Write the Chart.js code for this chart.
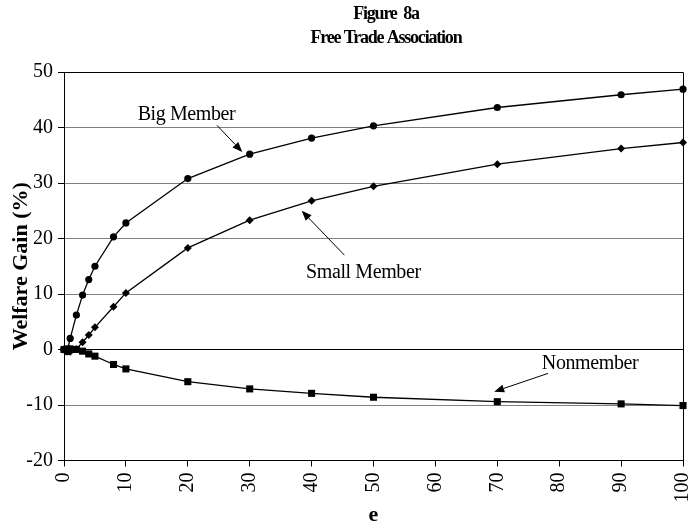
<!DOCTYPE html>
<html>
<head>
<meta charset="utf-8">
<script src="https://cdn.jsdelivr.net/npm/chart.js@4/dist/chart.umd.min.js"></script>
<style>
  html, body { margin: 0; padding: 0; background: #fff; overflow: hidden; }
  canvas { display: block; }
</style>
</head>
<body>
<canvas id="myChart" width="695" height="529"></canvas>
<script>
// Chart data
const eValues = [0, 0.5, 1, 2, 3, 4, 5, 8, 10, 20, 30, 40, 50, 70, 90, 100];
const bigMember = [0, -0.4, 2.0, 6.2, 9.8, 12.6, 15.0, 20.3, 22.8, 30.8, 35.2, 38.1, 40.3, 43.6, 45.9, 46.9];
const smallMember = [0, -0.3, -0.4, 0.1, 1.3, 2.6, 4.0, 7.7, 10.2, 18.3, 23.3, 26.8, 29.4, 33.4, 36.2, 37.3];
const nonmember = [0, 0.1, 0.1, 0, -0.3, -0.8, -1.2, -2.7, -3.5, -5.8, -7.1, -7.9, -8.6, -9.4, -9.8, -10.1];

const titleLines = ['Figure  8a', 'Free Trade Association'];

// callout labels: text position and arrow (from -> tip), in data units
const callouts = [
  { text: 'Big Member', tx: 11.9, ty: 42.3, from: [24.7, 40.4], to: [28.8, 35.6] },
  { text: 'Small Member', tx: 39.1, ty: 13.9, from: [45.3, 17.0], to: [38.4, 25.0] },
  { text: 'Nonmember', tx: 77.2, ty: -2.6, from: [78.2, -4.3], to: [69.5, -7.6] }
];

const serif = '"Liberation Serif", "Times New Roman", serif';

function toXY(arr) {
  return eValues.map((e, i) => ({ x: e, y: arr[i] }));
}

// extra drawing: frame, titles, callouts
const extras = {
  id: 'extras',
  afterDraw(chart) {
    const ctx = chart.ctx;
    const a = chart.chartArea;
    const xs = chart.scales.x, ys = chart.scales.y;
    ctx.save();

    // top and right border
    ctx.strokeStyle = '#000';
    ctx.lineWidth = 1;
    ctx.beginPath();
    ctx.moveTo(a.left, a.top + 0.5);
    ctx.lineTo(a.right + 0.5, a.top + 0.5);
    ctx.lineTo(a.right + 0.5, a.bottom);
    ctx.stroke();

    // titles
    ctx.fillStyle = '#000';
    ctx.textAlign = 'center';
    ctx.textBaseline = 'middle';
    ctx.font = 'bold 18px ' + serif;
    ctx.letterSpacing = '-1.2px';
    ctx.fillText(titleLines[0], 386, 14);
    ctx.fillText(titleLines[1], 386, 38);

    // callouts
    ctx.font = '20px ' + serif;
    ctx.letterSpacing = '-0.4px';
    ctx.textAlign = 'left';
    callouts.forEach(c => {
      ctx.fillText(c.text, xs.getPixelForValue(c.tx), ys.getPixelForValue(c.ty));
      const x1 = xs.getPixelForValue(c.from[0]), y1 = ys.getPixelForValue(c.from[1]);
      const x2 = xs.getPixelForValue(c.to[0]), y2 = ys.getPixelForValue(c.to[1]);
      const ang = Math.atan2(y2 - y1, x2 - x1);
      const hl = 10, hw = 4;
      const bx = x2 - hl * Math.cos(ang), by = y2 - hl * Math.sin(ang);
      ctx.lineWidth = 1;
      ctx.beginPath();
      ctx.moveTo(x1, y1);
      ctx.lineTo(bx, by);
      ctx.stroke();
      ctx.beginPath();
      ctx.moveTo(x2, y2);
      ctx.lineTo(bx + hw * Math.sin(ang), by - hw * Math.cos(ang));
      ctx.lineTo(bx - hw * Math.sin(ang), by + hw * Math.cos(ang));
      ctx.closePath();
      ctx.fill();
    });
    ctx.restore();
  }
};

const canvas = document.getElementById('myChart');
const ctx = canvas.getContext('2d');

const data = {
  datasets: [
    {
      label: 'Big Member',
      data: toXY(bigMember),
      borderColor: '#000',
      backgroundColor: '#000',
      borderWidth: 1.3,
      pointStyle: 'circle',
      pointRadius: 3.6,
      pointBorderWidth: 0
    },
    {
      label: 'Small Member',
      data: toXY(smallMember),
      borderColor: '#000',
      backgroundColor: '#000',
      borderWidth: 1.3,
      pointStyle: 'rectRot',
      pointRadius: 4,
      pointBorderWidth: 0
    },
    {
      label: 'Nonmember',
      data: toXY(nonmember),
      borderColor: '#000',
      backgroundColor: '#000',
      borderWidth: 1.3,
      pointStyle: 'rect',
      pointRadius: 5,
      pointBorderWidth: 0
    }
  ]
};

const options = {
  responsive: false,
  animation: false,
  clip: false,
  layout: { padding: { left: 8, right: 12, top: 72, bottom: 0 } },
  plugins: {
    legend: { display: false },
    tooltip: { enabled: false }
  },
  elements: { line: { tension: 0 } },
  scales: {
    x: {
      type: 'linear',
      min: 0,
      max: 100,
      border: { color: '#000', width: 1 },
      grid: { drawOnChartArea: false, drawTicks: true, tickLength: 6, color: '#000' },
      ticks: {
        stepSize: 10,
        minRotation: 90,
        maxRotation: 90,
        padding: 6,
        color: '#000',
        font: { family: serif, size: 20 }
      },
      title: {
        display: true,
        text: 'e',
        color: '#000',
        font: { family: serif, size: 22, weight: 'bold' },
        padding: { top: 4, bottom: 0 }
      },
      afterFit(scale) {
        scale.height = 68.5;
        scale.paddingLeft = 0;
        scale.paddingRight = 0;
      }
    },
    y: {
      min: -20,
      max: 50,
      border: { color: '#000', width: 1 },
      grid: {
        tickLength: 6,
        tickColor: '#000',
        lineWidth: 1,
        color: c => (c.tick && (c.tick.value === 0 || c.tick.value === -20 || c.tick.value === 50)) ? '#000' : '#808080'
      },
      ticks: {
        stepSize: 10,
        padding: 5,
        color: '#000',
        font: { family: serif, size: 20 }
      },
      title: {
        display: true,
        text: 'Welfare Gain (%)',
        color: '#000',
        font: { family: serif, size: 22, weight: 'bold' },
        padding: { top: 0, bottom: 0 }
      },
      afterFit(scale) {
        scale.width = 56;
        scale.paddingTop = 0;
        scale.paddingBottom = 0;
      }
    }
  }
};

const lineChart = new Chart(ctx, {
  type: 'line',
  data: data,
  options: options,
  plugins: [extras]
});
</script>
</body>
</html>
